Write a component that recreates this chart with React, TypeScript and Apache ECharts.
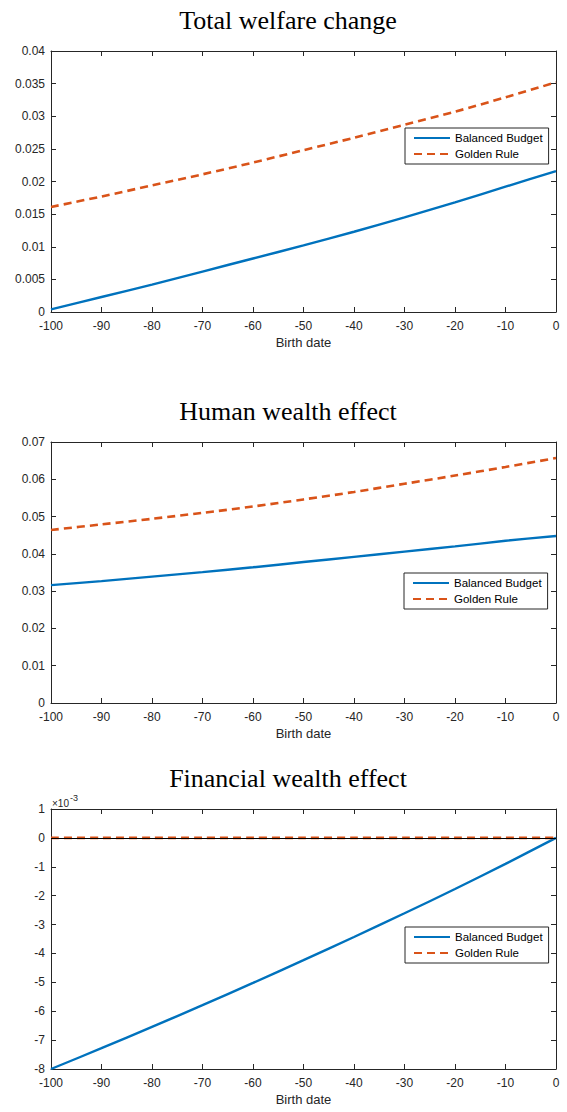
import React, { useEffect, useRef } from "react";
import * as echarts from "echarts";

const birthDates = [-100, -90, -80, -70, -60, -50, -40, -30, -20, -10, 0];

// Total welfare change
const totalBalanced = [0.0004, 0.0023, 0.0042, 0.0062, 0.0082, 0.0102, 0.0123, 0.0145, 0.0168, 0.0192, 0.0216];
const totalGolden = [0.0161, 0.0177, 0.0194, 0.0211, 0.0229, 0.0248, 0.0267, 0.0287, 0.0307, 0.0329, 0.0352];

// Human wealth effect
const humanBalanced = [0.0316, 0.0327, 0.0339, 0.0351, 0.0364, 0.0378, 0.0392, 0.0406, 0.042, 0.0435, 0.0448];
const humanGolden = [0.0464, 0.0479, 0.0494, 0.051, 0.0527, 0.0546, 0.0566, 0.0588, 0.061, 0.0633, 0.0657];

// Financial wealth effect (in units of 1e-3)
const finBalanced = [-8, -7.28, -6.54, -5.79, -5.02, -4.23, -3.43, -2.61, -1.77, -0.9, 0];
const finGolden = [0, 0, 0, 0, 0, 0, 0, 0, 0, 0, 0];

const titles = ["Total welfare change", "Human wealth effect", "Financial wealth effect"];
const xTicks = { min: -100, max: 0, interval: 10 };
const yRanges = [
  { min: 0, max: 0.04, interval: 0.005 },
  { min: 0, max: 0.07, interval: 0.01 },
  { min: -8, max: 1, interval: 1 },
];
const seriesNames = ["Balanced Budget", "Golden Rule"];

const BLUE = "#0072BD";
const ORANGE = "#D95319";
const AXIS = "#262626";
const SANS = "'Liberation Sans', Arial, Helvetica, sans-serif";
const SERIF = "'Liberation Serif', 'Times New Roman', serif";

export default function App() {
  const ref = useRef<HTMLDivElement>(null);

  useEffect(() => {
    document.body.style.margin = "0";
    if (!ref.current) return;
    const chart = echarts.init(ref.current, undefined, { renderer: "svg" });

    const grids = [
      { left: 51, top: 51, width: 505, height: 261 },
      { left: 51, top: 442, width: 505, height: 261 },
      { left: 51, top: 809, width: 505, height: 260 },
    ];
    const legendPos = [
      { left: 405, top: 128 },
      { left: 404, top: 573 },
      { left: 405, top: 927 },
    ];
    const data = [
      [totalBalanced, totalGolden],
      [humanBalanced, humanGolden],
      [finBalanced, finGolden],
    ];

    const xAxes: any[] = [];
    const yAxes: any[] = [];
    const series: any[] = [];

    const fmt = (v: number) => String(+v.toFixed(4));

    grids.forEach((_, i) => {
      const common = {
        type: "value",
        gridIndex: i,
        min: xTicks.min,
        max: xTicks.max,
        interval: xTicks.interval,
        splitLine: { show: false },
        axisLine: { show: true, onZero: false, lineStyle: { color: AXIS, width: 1 } },
        axisTick: { show: true, inside: true, length: 5, lineStyle: { color: AXIS } },
      };
      xAxes.push({
        ...common,
        position: "bottom",
        axisLabel: { show: true, color: AXIS, fontFamily: SANS, fontSize: 12, margin: 8, formatter: fmt },
        name: "Birth date",
        nameLocation: "middle",
        nameGap: 24,
        nameTextStyle: { color: AXIS, fontFamily: SANS, fontSize: 13 },
      });
      xAxes.push({ ...common, position: "top", axisLabel: { show: false } });

      const yc = {
        type: "value",
        gridIndex: i,
        min: yRanges[i].min,
        max: yRanges[i].max,
        interval: yRanges[i].interval,
        splitLine: { show: false },
        axisLine: { show: true, onZero: false, lineStyle: { color: AXIS, width: 1 } },
        axisTick: { show: true, inside: true, length: 5, lineStyle: { color: AXIS } },
      };
      yAxes.push({
        ...yc,
        position: "left",
        axisLabel: { show: true, color: AXIS, fontFamily: SANS, fontSize: 12, margin: 6, formatter: fmt },
      });
      yAxes.push({ ...yc, position: "right", axisLabel: { show: false } });

      const [bb, gr] = data[i];
      series.push({
        name: seriesNames[0],
        type: "line",
        xAxisIndex: 2 * i,
        yAxisIndex: 2 * i,
        symbol: "none",
        data: birthDates.map((x, k) => [x, bb[k]]),
        lineStyle: { color: BLUE, width: 2.4, type: "solid" },
        itemStyle: { color: BLUE },
        smooth: 0.3,
      });
      const gs: any = {
        name: seriesNames[1],
        type: "line",
        xAxisIndex: 2 * i,
        yAxisIndex: 2 * i,
        symbol: "none",
        data: birthDates.map((x, k) => [x, gr[k]]),
        lineStyle: { color: ORANGE, width: 2.6, type: [8, 5] },
        itemStyle: { color: ORANGE },
        smooth: 0.3,
      };
      if (i === 2) {
        gs.markLine = {
          silent: true,
          symbol: "none",
          label: { show: false },
          lineStyle: { color: "#000", width: 1, type: "solid" },
          data: [{ yAxis: 0 }],
        };
      }
      series.push(gs);
    });

    const legends = legendPos.map((p) => ({
      data: seriesNames,
      left: p.left,
      top: p.top,
      orient: "vertical",
      itemWidth: 36,
      itemHeight: 12,
      itemGap: 4,
      padding: [4, 6, 4, 8],
      borderColor: AXIS,
      borderWidth: 1,
      borderRadius: 0,
      backgroundColor: "#fff",
      selectedMode: false,
      itemStyle: { opacity: 0 },
      textStyle: { color: "#000", fontFamily: SANS, fontSize: 11.5, padding: [0, 0, 0, 0] },
    }));

    const graphics: any[] = titles.map((t, i) => ({
      type: "text",
      x: 288,
      y: grids[i].top - 31,
      style: {
        text: t,
        font: `26px ${SERIF}`,
        fill: "#000",
        textAlign: "center",
        textVerticalAlign: "middle",
      },
    }));
    graphics.push({
      type: "text",
      x: 52,
      y: 803,
      style: { text: "×10", font: `10px ${SANS}`, fill: AXIS, textAlign: "left", textVerticalAlign: "middle" },
    });
    graphics.push({
      type: "text",
      x: 70,
      y: 798,
      style: { text: "-3", font: `9px ${SANS}`, fill: AXIS, textAlign: "left", textVerticalAlign: "middle" },
    });

    chart.setOption({
      animation: false,
      backgroundColor: "#fff",
      grid: grids,
      xAxis: xAxes,
      yAxis: yAxes,
      series,
      legend: legends,
      graphic: graphics,
    });

    return () => chart.dispose();
  }, []);

  return <div ref={ref} style={{ width: 567, height: 1112 }} />;
}
